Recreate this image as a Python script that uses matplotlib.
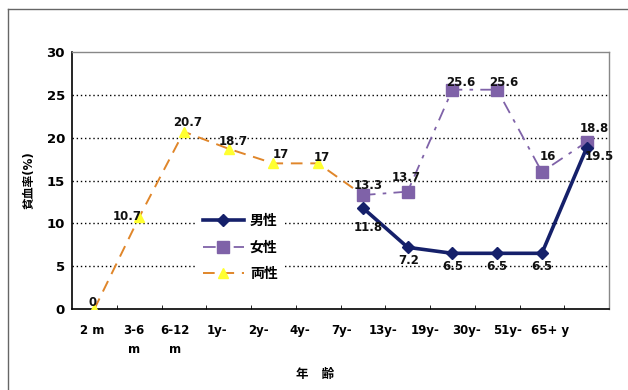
import numpy as np
import matplotlib.pyplot as plt
from matplotlib.lines import Line2D
from matplotlib.transforms import ScaledTranslation

plt.rcParams['font.family'] = ['DejaVu Sans', 'Noto Sans CJK JP']
plt.rcParams['font.weight'] = 'bold'

ages = ["2 m", "3-6\nm", "6-12\nm", "1y-", "2y-", "4y-", "7y-",
        "13y-", "19y-", "30y-", "51y-", "65+ y"]

# 男性 / 女性 start at 7y-
male = [11.8, 7.2, 6.5, 6.5, 6.5, 18.8]
female = [13.3, 13.7, 25.6, 25.6, 16, 19.5]
both = [0, 10.7, 20.7, 18.7, 17, 17, 13.3]

# label offsets in pixels (dx, dy)
male_offsets = [(5, -20), (1, -13), (0, -13), (0, -13), (0, -13), (8, 19)]
female_offsets = [None, (-1, 14), (8, 7), (7, 7), (6, 15), (13, -15)]
both_offsets = [(-2, 6), (-12, 1), (4, 9), (5, 7), (7, 9), (4, 6), (5, 10)]

C_MALE = "#15206a"
C_FEMALE = "#7f62a8"
C_BOTH = "#e0862a"
C_TRI = "#ffff30"

fig = plt.figure(figsize=(6.28, 3.90), dpi=100)
ax = fig.add_axes([72 / 628, 1 - 309 / 390, (609 - 72) / 628, (309 - 52) / 390])

x_all = np.arange(len(ages))
x_male = x_all[6:]

ax.plot(x_all[:len(both)], both, color=C_BOTH, lw=1.4, ls=(0, (6, 4)),
        marker="^", ms=7, mfc=C_TRI, mec=C_TRI, zorder=3)
ax.plot(x_male, female, color=C_FEMALE, lw=1.3, ls=(0, (7, 4, 2, 4)),
        marker="s", ms=8, mfc=C_FEMALE, mec=C_FEMALE, zorder=4)
ax.plot(x_male, male, color=C_MALE, lw=2.6, ls="-",
        marker="D", ms=6, mfc=C_MALE, mec=C_MALE, zorder=5)

def put_labels(xs, ys, offs):
    for xv, yv, off in zip(xs, ys, offs):
        if off is None:
            continue
        ax.annotate(f"{yv:g}", (xv, yv), xytext=(off[0] * 0.72, off[1] * 0.72),
                    textcoords="offset points", ha="center", va="center",
                    fontsize=8.5, fontweight="bold", color="#111111", zorder=6)

put_labels(x_all[:len(both)], both, both_offsets)
put_labels(x_male, male, male_offsets)
put_labels(x_male, female, female_offsets)

ax.set_xlim(-0.5, len(ages) - 0.5)
ax.set_ylim(0, 30)
ax.set_yticks(np.arange(0, 31, 5))
ax.set_xticks(x_all)
ax.set_xticklabels(ages, fontsize=8.5, fontweight="bold", linespacing=1.6)
ax.tick_params(axis="x", length=0, pad=11)
ax.tick_params(axis="y", length=0, labelsize=9.5, pad=5)
for lab in ax.get_yticklabels():
    lab.set_fontweight("bold")

# category labels sit on a slightly tighter pitch than the slots
for i, lab in enumerate(ax.get_xticklabels()):
    dx = (-2.4 - 3.15 * i) / 100
    lab.set_transform(lab.get_transform() + ScaledTranslation(dx, 0, fig.dpi_scale_trans))

# category boundary ticks on the baseline
ax.set_xticks(np.arange(0.5, len(ages) - 0.5, 1), minor=True)
ax.tick_params(axis="x", which="minor", direction="in", length=3, color="black")

for yv in range(5, 30, 5):
    ax.axhline(yv, color="black", lw=1.0, ls=(0, (1, 2)), zorder=1)

for side in ["left", "bottom"]:
    ax.spines[side].set_color("black")
    ax.spines[side].set_linewidth(1.2)
for side in ["top", "right"]:
    ax.spines[side].set_color("#888888")
    ax.spines[side].set_linewidth(1.0)

ax.set_xlabel("年   齢", fontsize=9, fontweight="bold")
ax.xaxis.set_label_coords(0.452, -0.23)
ax.set_ylabel("貧血率(%)", fontsize=8.5, fontweight="bold", labelpad=8)

handles = [
    Line2D([], [], color=C_MALE, lw=2.6, marker="D", ms=6, mfc=C_MALE, mec=C_MALE),
    Line2D([], [], color=C_FEMALE, lw=1.3, ls=(0, (7, 4, 2, 4)), marker="s", ms=8,
           mfc=C_FEMALE, mec=C_FEMALE),
    Line2D([], [], color=C_BOTH, lw=1.4, ls=(0, (6, 4)), marker="^", ms=7,
           mfc=C_TRI, mec=C_TRI),
]
leg = ax.legend(handles, ["男性", "女性", "両性"], loc="lower left",
                bbox_to_anchor=(0.22, 0.06), frameon=True, fancybox=False,
                edgecolor="none", facecolor="white", framealpha=1,
                handlelength=3.0, handletextpad=0.4, labelspacing=0.9,
                prop={"size": 10, "weight": "bold"})
leg.set_zorder(2)

# outer chart frame
fig.add_artist(Line2D([8 / 628, 8 / 628], [0, 1 - 9 / 390], color="#666666", lw=1.0))
fig.add_artist(Line2D([8 / 628, 1], [1 - 9 / 390, 1 - 9 / 390], color="#666666", lw=1.0))

fig.savefig("out.png", dpi=100, facecolor="white")
